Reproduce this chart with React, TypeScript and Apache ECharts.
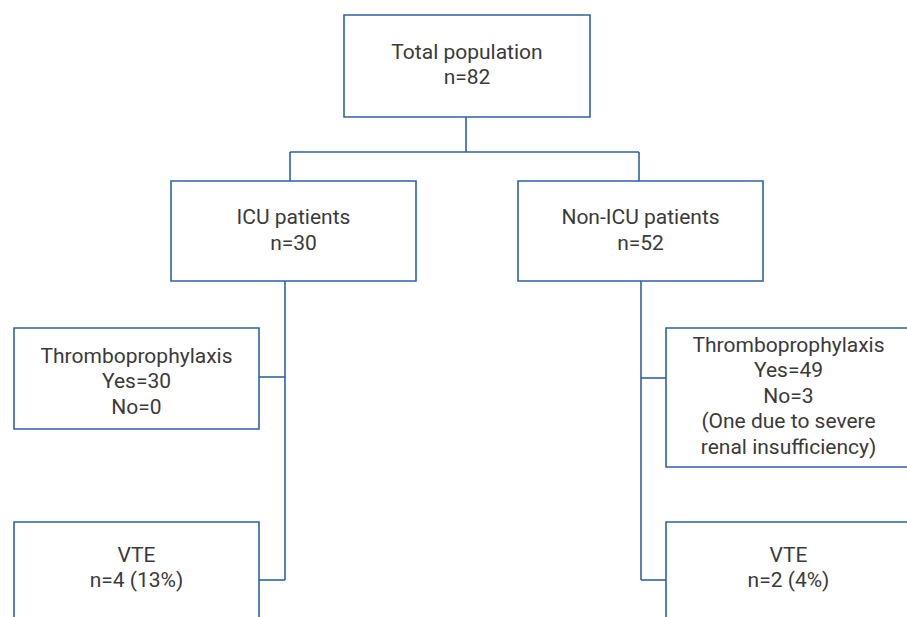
import React, { useEffect, useRef } from "react";
import * as echarts from "echarts";

// ---- Data ----
const totalLabel = "Total population";
const totalN = 82;
const groups = ["ICU patients", "Non-ICU patients"];
const groupN = [30, 52];
const prophylaxisLabel = "Thromboprophylaxis";
const prophylaxisYes = [30, 49];
const prophylaxisNo = [0, 3];
const prophylaxisNote = ["", "(One due to severe\nrenal insufficiency)"];
const vteLabel = "VTE";
const vteN = [4, 2];
const vtePct = [13, 4];

// ---- Layout (positions / styles) ----
const LINE = "#2d62ab";
const TEXT = "#3a3a3a";
const FONT = "Roboto, 'Noto Sans', sans-serif";
const FS = 21;
const LH = 25.5;

const topBox = { x: 344, y: 15, w: 246, h: 102, ty: 64.5 };
const groupBox = { x: [171, 518], y: 181, w: 245, h: 100, ty: 230 };
const proBox = { x: [14, 666], y: 328, w: 245, h: [101, 139], ty: [381, 395.5] };
const vteBox = { x: [14, 666], y: 522, w: 245, h: 110, ty: 567.5 };
const trunkX = [285, 641];
const topSplitY = 152;
const splitX = [290, 639];
const proConnY = [377, 378];
const vteConnY = 580;

function box(x: number, y: number, w: number, h: number) {
  return {
    type: "rect",
    shape: { x, y, width: w, height: h },
    style: { fill: "#fff", stroke: LINE, lineWidth: 1.6 },
    z: 1,
  };
}
function line(x1: number, y1: number, x2: number, y2: number) {
  return {
    type: "line",
    shape: { x1, y1, x2, y2 },
    style: { stroke: LINE, lineWidth: 1.6 },
    z: 0,
  };
}
function text(cx: number, cy: number, t: string) {
  return {
    type: "text",
    x: cx,
    y: cy,
    z: 2,
    style: {
      text: t,
      fill: TEXT,
      font: `${FS}px ${FONT}`,
      fontSize: FS,
      fontFamily: FONT,
      lineHeight: LH,
      align: "center",
      verticalAlign: "middle",
    },
  };
}

export default function App() {
  const ref = useRef<HTMLDivElement>(null);
  useEffect(() => {
    if (!ref.current) return;
    const chart = echarts.init(ref.current, undefined, { renderer: "svg" });
    const els: any[] = [];

    els.push(box(topBox.x, topBox.y, topBox.w, topBox.h));
    els.push(text(topBox.x + topBox.w / 2, topBox.ty, `${totalLabel}\nn=${totalN}`));
    const topCx = topBox.x + topBox.w / 2 - 1;
    els.push(line(topCx, topBox.y + topBox.h, topCx, topSplitY));
    els.push(line(splitX[0], topSplitY, splitX[1], topSplitY));

    groups.forEach((g, i) => {
      els.push(line(splitX[i], topSplitY, splitX[i], groupBox.y));
      els.push(box(groupBox.x[i], groupBox.y, groupBox.w, groupBox.h));
      els.push(text(groupBox.x[i] + groupBox.w / 2, groupBox.ty, `${g}\nn=${groupN[i]}`));

      els.push(line(trunkX[i], groupBox.y + groupBox.h, trunkX[i], vteConnY));

      const px = proBox.x[i];
      const ph = proBox.h[i];
      els.push(box(px, proBox.y, proBox.w, ph));
      const edgeP = i === 0 ? px + proBox.w : px;
      els.push(line(trunkX[i], proConnY[i], edgeP, proConnY[i]));
      let pt = `${prophylaxisLabel}\nYes=${prophylaxisYes[i]}\nNo=${prophylaxisNo[i]}`;
      if (prophylaxisNote[i]) pt += `\n${prophylaxisNote[i]}`;
      els.push(text(px + proBox.w / 2, proBox.ty[i], pt));

      const vx = vteBox.x[i];
      els.push(box(vx, vteBox.y, vteBox.w, vteBox.h));
      const edgeV = i === 0 ? vx + vteBox.w : vx;
      els.push(line(trunkX[i], vteConnY, edgeV, vteConnY));
      els.push(text(vx + vteBox.w / 2, vteBox.ty, `${vteLabel}\nn=${vteN[i]} (${vtePct[i]}%)`));
    });

    chart.setOption({
      animation: false,
      backgroundColor: "#ffffff",
      graphic: { elements: els },
    });
    return () => chart.dispose();
  }, []);
  return (
    <div
      ref={ref}
      style={{ position: "fixed", left: 0, top: 0, width: 907, height: 617, background: "#fff" }}
    />
  );
}
